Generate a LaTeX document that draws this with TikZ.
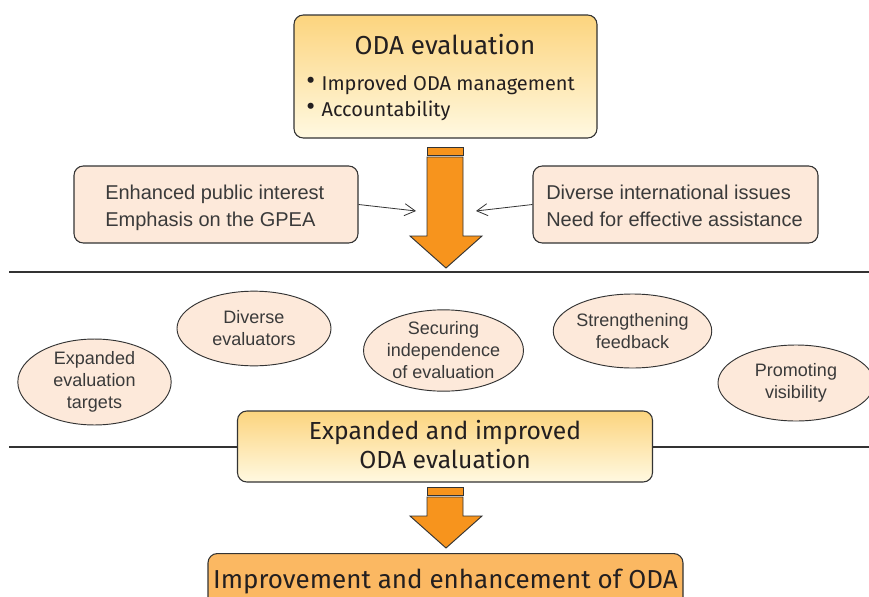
\documentclass[tikz,border=0pt]{standalone}
\usepackage{fontspec}
\setmainfont{Liberation Sans}
\newfontfamily\headfont{Fira Sans}
\usetikzlibrary{arrows.meta}
\definecolor{edge}{HTML}{333333}
\definecolor{peach}{HTML}{FDE9DA}
\definecolor{gold}{HTML}{FCD47E}
\definecolor{cream}{HTML}{FFF9E1}
\definecolor{arrowor}{HTML}{F7941D}
\definecolor{boxor}{HTML}{FBB862}
\definecolor{txt}{HTML}{231F20}
\definecolor{ovtxt}{HTML}{3A3A3A}
\tikzset{
  gradbox/.style={draw=edge, line width=0.8pt, rounded corners=7pt, top color=gold, bottom color=cream, inner sep=0pt},
  peachbox/.style={draw=edge, line width=0.8pt, rounded corners=7pt, fill=peach, inner sep=0pt},
  oval/.style={draw=edge, line width=0.7pt, fill=peach, ellipse, inner sep=0pt, align=center, font=\fontsize{13.5}{16.5}\selectfont, text=ovtxt},
  bigarrow/.style={draw=edge, line width=0.7pt, fill=arrowor},
  thinarrow/.style={draw=edge, line width=0.6pt, -{Straight Barb[length=8pt,width=9pt]}},
  sepline/.style={draw=edge, line width=0.8pt},
  boxtext/.style={align=left, anchor=west, inner sep=0pt, font=\fontsize{15}{19.5}\selectfont, text=ovtxt},
  headtext/.style={align=center, inner sep=0pt, font=\headfont\fontsize{18.5}{22.5}\selectfont, text=txt},
  bullettext/.style={align=left, inner sep=0pt, anchor=base west, font=\headfont\fontsize{15}{19.5}\selectfont, text=txt},
}
\newcommand{\bulletmark}{\makebox[11.5pt][l]{\raisebox{0.3pt}{\scalebox{1.35}{•}}}}
\usetikzlibrary{shapes.geometric}
\begin{document}
\begin{tikzpicture}[x=0.75pt,y=-0.75pt]
\clip (0,0) rectangle (869,597);
\fill[white] (0,0) rectangle (869,597);
% separator lines
\coordinate (l1a) at (9,272); \coordinate (l1b) at (869,272);
\coordinate (l2a) at (9,447); \coordinate (l2b) at (869,447);
\draw[sepline] (l1a) -- (l1b);
\draw[sepline] (l2a) -- (l2b);
% top box
\node[gradbox, minimum width=227.25pt, minimum height=92.25pt] (top) at (445.5,76.5) {};
\node[headtext, anchor=base, font=\headfont\fontsize{19.5}{22.5}\selectfont] (toph) at (445,54) {ODA evaluation};
\node[bullettext] (topb) at (306,90) {\bulletmark Improved ODA management};
\node[bullettext] (topc) at (306,116) {\bulletmark Accountability};
% side boxes
\node[peachbox, minimum width=213pt, minimum height=57.75pt] (lbox) at (216,204.5) {};
\node[boxtext, anchor=base west] (lt1) at (105,199) {Enhanced public interest};
\node[boxtext, anchor=base west] (lt2) at (105,226) {Emphasis on the GPEA};
\node[peachbox, minimum width=213.75pt, minimum height=57.75pt] (rbox) at (675.5,204.5) {};
\node[boxtext, anchor=base west] (rt1) at (546,199) {Diverse international issues};
\node[boxtext, anchor=base west] (rt2) at (546,226) {Need for effective assistance};
% first big arrow
\draw[bigarrow] (427,147) rectangle (463,155);
\draw[bigarrow] (427,157) -- (463,157) -- (463,236) -- (482,236) -- (446,268) -- (410,236) -- (427,236) -- cycle;
\coordinate (la) at (416,211);
\coordinate (ra) at (476,211);
\draw[thinarrow] (lbox.east) -- (la);
\draw[thinarrow] (rbox.west) -- (ra);
% ellipses
\node[oval, minimum width=115pt, minimum height=57pt] (e1) at (94.5,382) {Expanded\\evaluation\\targets};
\node[oval, minimum width=115.5pt, minimum height=56pt] (e2) at (254,328.5) {Diverse\\evaluators};
\node[oval, minimum width=116pt, minimum height=61pt] (e3) at (443.5,350.5) {Securing\\independence\\of evaluation};
\node[oval, minimum width=116pt, minimum height=55.5pt] (e4) at (632.5,331) {Strengthening\\feedback};
\node[oval, minimum width=117pt, minimum height=57pt] (e5) at (796,383) {Promoting\\visibility};
% middle box
\node[gradbox, minimum width=311.25pt, minimum height=53.25pt] (mid) at (445,446.5) {};
\node[headtext, anchor=base] (midt1) at (445,439) {Expanded and improved};
\node[headtext, anchor=base] (midt2) at (445,468) {ODA evaluation};
% second big arrow
\draw[bigarrow] (427,487) rectangle (463,495);
\draw[bigarrow] (427,497) -- (463,497) -- (463,516) -- (482,516) -- (446,548) -- (410,516) -- (427,516) -- cycle;
% bottom box
\node[draw=edge, line width=0.8pt, rounded corners=7pt, fill=boxor, minimum width=356.25pt, minimum height=40pt, anchor=north, inner sep=0pt] (bot) at (445.5,553) {};
\node[headtext, anchor=base, font=\headfont\fontsize{19.5}{22.5}\selectfont] (bott) at (445.5,588) {Improvement and enhancement of ODA};
\end{tikzpicture}
\end{document}
